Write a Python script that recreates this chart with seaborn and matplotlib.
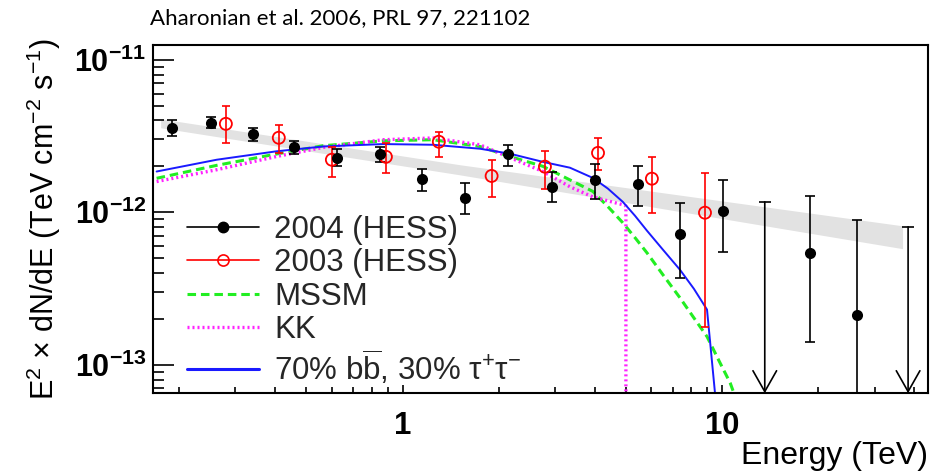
import numpy as np
import pandas as pd
import matplotlib
matplotlib.use("Agg")
import matplotlib.pyplot as plt
import seaborn as sns
from matplotlib.lines import Line2D
from matplotlib.ticker import FixedLocator, LogLocator, FuncFormatter, NullFormatter

# ---------------- data ----------------
# HESS 2004 spectrum points (TeV, TeV cm^-2 s^-1)
e_2004 = [0.190, 0.251, 0.340, 0.457, 0.625, 0.849, 1.149, 1.567, 2.144,
          2.93, 4.00, 5.45, 7.38, 10.06, 18.8, 26.4]
f_2004 = [3.58e-12, 3.86e-12, 3.27e-12, 2.69e-12, 2.28e-12, 2.42e-12,
          1.66e-12, 1.24e-12, 2.42e-12, 1.47e-12, 1.63e-12, 1.54e-12,
          7.23e-13, 1.02e-12, 5.42e-13, 2.13e-13]
f_2004_hi = [4.05e-12, 4.20e-12, 3.58e-12, 2.95e-12, 2.61e-12, 2.69e-12,
             1.93e-12, 1.56e-12, 2.77e-12, 1.84e-12, 2.08e-12, 2.02e-12,
             1.15e-12, 1.63e-12, 1.27e-12, 8.90e-13]
f_2004_lo = [3.18e-12, 3.55e-12, 2.95e-12, 2.42e-12, 2.02e-12, 2.14e-12,
             1.38e-12, 0.98e-12, 2.02e-12, 1.16e-12, 1.23e-12, 1.10e-12,
             3.69e-13, 5.50e-13, 1.41e-13, 1.0e-14]
# 2004 upper limits
e_2004_ul = [13.6, 38.2]
f_2004_ul = [1.17e-12, 8.03e-13]

# HESS 2003 spectrum points
e_2003 = [0.280, 0.410, 0.601, 0.887, 1.299, 1.90, 2.79, 4.09, 6.03, 8.84]
f_2003 = [3.80e-12, 3.08e-12, 2.21e-12, 2.31e-12, 2.90e-12, 1.73e-12,
          1.99e-12, 2.45e-12, 1.66e-12, 9.93e-13]
f_2003_hi = [5.00e-12, 3.75e-12, 2.69e-12, 2.86e-12, 3.37e-12, 2.21e-12,
             2.53e-12, 3.08e-12, 2.31e-12, 1.81e-12]
f_2003_lo = [2.86e-12, 2.46e-12, 1.71e-12, 1.82e-12, 2.31e-12, 1.25e-12,
             1.43e-12, 1.88e-12, 0.99e-12, 1.76e-13]

# Power-law fit band
band_e = [0.175, 1.51, 36.7]
band_hi = [4.10e-12, 2.05e-12, 8.15e-13]
band_lo = [3.58e-12, 1.76e-12, 5.77e-13]

# Dark matter annihilation model spectra
e_mssm = [0.170, 0.262, 0.403, 0.564, 0.870, 1.247, 1.746, 2.17, 2.75, 3.34,
          3.94, 4.39, 4.89, 5.34, 5.82, 6.53, 7.38, 8.16, 8.97, 9.85, 10.6, 11.4]
f_mssm = [1.67e-12, 2.03e-12, 2.41e-12, 2.73e-12, 2.94e-12, 2.99e-12,
          2.70e-12, 2.32e-12, 2.00e-12, 1.63e-12, 1.37e-12, 1.09e-12,
          8.53e-13, 6.81e-13, 5.42e-13, 3.89e-13, 2.75e-13, 2.03e-13,
          1.53e-13, 1.03e-13, 7.6e-14, 5.0e-14]
e_kk = [0.170, 0.262, 0.403, 0.564, 0.870, 1.247, 1.746, 2.17, 2.75, 3.34,
        3.94, 4.89, 5.0, 5.0]
f_kk = [1.59e-12, 1.90e-12, 2.32e-12, 2.66e-12, 2.99e-12, 3.07e-12,
        2.77e-12, 2.28e-12, 1.85e-12, 1.47e-12, 1.26e-12, 1.12e-12,
        1.10e-12, 1.0e-14]
e_mix = [0.170, 0.262, 0.403, 0.564, 0.870, 1.247, 1.746, 2.17, 2.75, 3.34,
         3.94, 4.39, 4.89, 5.34, 5.82, 6.53, 7.38, 8.16, 8.97, 10.35]
f_mix = [1.85e-12, 2.21e-12, 2.51e-12, 2.70e-12, 2.80e-12, 2.77e-12,
         2.61e-12, 2.42e-12, 2.14e-12, 1.96e-12, 1.68e-12, 1.43e-12,
         1.17e-12, 9.48e-13, 7.57e-13, 5.68e-13, 4.20e-13, 3.15e-13,
         2.30e-13, 1.0e-14]

labels = ["2004 (HESS)", "2003 (HESS)", "MSSM", "KK",
          r"70% b$\overline{\mathrm{b}}$, 30% $\tau^{+}\tau^{-}$"]

x_major = [1, 10]
y_major = [1e-13, 1e-12, 1e-11]

# ---------------- style ----------------
sns.set_theme(style="ticks")
plt.rcParams["font.family"] = ["Liberation Sans", "DejaVu Sans"]
plt.rcParams["mathtext.fontset"] = "custom"
plt.rcParams["mathtext.rm"] = "Liberation Sans"
plt.rcParams["mathtext.bf"] = "Liberation Sans:bold"
plt.rcParams["mathtext.it"] = "Liberation Serif"
plt.rcParams["mathtext.default"] = "rm"

FS_TICK = 22.5
FS_LAB = 22.5
FS_LEG = 22.5

fig = plt.figure(figsize=(9.47, 4.74), dpi=100)
ax = fig.add_axes([0.1619, 0.1703, 0.8184, 0.7348])
ax.set_xscale("log")
ax.set_yscale("log")
ax.set_xlim(0.166, 44.2)
ax.set_ylim(6.5e-14, 1.25e-11)

# fit band
ax.fill_between(band_e, band_lo, band_hi, color="#e2e2e2", lw=0, zorder=0)

# model curves
curves = pd.concat([
    pd.DataFrame({"E": e_mssm, "F": f_mssm, "model": "MSSM"}),
    pd.DataFrame({"E": e_kk, "F": f_kk, "model": "KK"}),
    pd.DataFrame({"E": e_mix, "F": f_mix, "model": "mix"}),
], ignore_index=True)
palette = {"MSSM": "#22ee22", "KK": "#ff22ff", "mix": "#1a1aff"}
styles = {"MSSM": ((0, (2.8, 1.6)), 2.2), "KK": ((0, (0.6, 0.9)), 2.4),
          "mix": ("-", 1.4)}
for name, grp in curves.groupby("model", sort=False):
    ls, lw = styles[name]
    sns.lineplot(data=grp, x="E", y="F", ax=ax, color=palette[name],
                 sort=False, estimator=None, linewidth=lw, zorder=2)
    ax.lines[-1].set_linestyle(ls)

# 2003 points
f03 = np.array(f_2003)
ax.errorbar(e_2003, f03, yerr=[f03 - np.array(f_2003_lo), np.array(f_2003_hi) - f03],
            fmt="none", ecolor="#ff0000", elinewidth=1.2, capsize=3.0,
            capthick=1.2, zorder=3)
sns.scatterplot(x=e_2003, y=f_2003, ax=ax, marker="o", s=75,
                facecolor="none", edgecolor="#ff0000", linewidth=1.3, zorder=4)

# 2004 points
f04 = np.array(f_2004)
ax.errorbar(e_2004, f04, yerr=[f04 - np.array(f_2004_lo), np.array(f_2004_hi) - f04],
            fmt="none", ecolor="black", elinewidth=1.2, capsize=3.6,
            capthick=1.2, zorder=3)
sns.scatterplot(x=e_2004, y=f_2004, ax=ax, marker="o", s=64,
                color="black", edgecolor="black", linewidth=0, zorder=5)

# 2004 upper limits
ybot = ax.get_ylim()[0]
for e, f in zip(e_2004_ul, f_2004_ul):
    ax.annotate("", xy=(e, ybot), xytext=(e, f),
                arrowprops=dict(arrowstyle="->,head_length=1.5,head_width=0.85",
                                mutation_scale=10, lw=1.2, color="black",
                                shrinkA=0, shrinkB=0), zorder=3)
ax.plot(e_2004_ul, f_2004_ul, ls="none", marker="_", ms=8.6, mew=1.2,
        color="black", zorder=3)

# ---------------- axes ----------------
for side in ["left", "bottom", "top", "right"]:
    ax.spines[side].set_linewidth(1.5)
    ax.spines[side].set_color("black")

ax.xaxis.set_major_locator(FixedLocator(x_major))
ax.xaxis.set_minor_locator(LogLocator(base=10, subs=np.arange(2, 10), numticks=10))
ax.yaxis.set_major_locator(FixedLocator(y_major))
ax.yaxis.set_minor_locator(LogLocator(base=10, subs=np.arange(2, 10), numticks=10))
ax.xaxis.set_major_formatter(FuncFormatter(lambda v, p: rf"$\mathbf{{{v:g}}}$"))
ax.yaxis.set_major_formatter(
    FuncFormatter(lambda v, p: rf"$\mathbf{{10^{{{int(round(np.log10(v)))}}}}}$"))
ax.xaxis.set_minor_formatter(NullFormatter())
ax.yaxis.set_minor_formatter(NullFormatter())

ax.tick_params(axis="both", which="both", direction="in", top=False,
               right=False, color="black", width=1.2, labelcolor="black")
ax.tick_params(axis="x", which="major", length=6, pad=13, labelsize=FS_TICK)
ax.tick_params(axis="x", which="minor", length=4)
ax.tick_params(axis="y", which="major", length=15, pad=5, labelsize=FS_TICK - 0.5)
ax.tick_params(axis="y", which="minor", length=8)

ax.set_xlabel("Energy (TeV)", fontsize=FS_LAB + 0.5, loc="right", labelpad=0,
              color="black")
ax.set_ylabel(r"E$^{2}$ $\times$ dN/dE (TeV cm$^{-2}$ s$^{-1}$)", fontsize=FS_LAB - 0.5,
              labelpad=8, color="black")

# legend
handles = [
    Line2D([], [], color="black", marker="o", ms=7.5, lw=1.2),
    Line2D([], [], color="#ff0000", marker="o", ms=8, mfc="none", mew=1.2, lw=1.2),
    Line2D([], [], color=palette["MSSM"], lw=2.2, ls=(0, (2.8, 1.6))),
    Line2D([], [], color=palette["KK"], lw=2.4, ls=(0, (0.6, 0.9))),
    Line2D([], [], color=palette["mix"], lw=2.2),
]
ax.legend(handles, labels, loc="upper left", bbox_to_anchor=(0.043, 0.512),
          frameon=False, fontsize=FS_LEG, handlelength=2.3, handletextpad=0.5,
          labelspacing=0.11, borderpad=0, borderaxespad=0)

fig.text(0.158, 0.962, "Aharonian et al. 2006, PRL 97, 221102",
         fontsize=16, family=["Lato", "DejaVu Sans"], va="center",
         ha="left", color="black")

fig.savefig("out.png", dpi=100)
